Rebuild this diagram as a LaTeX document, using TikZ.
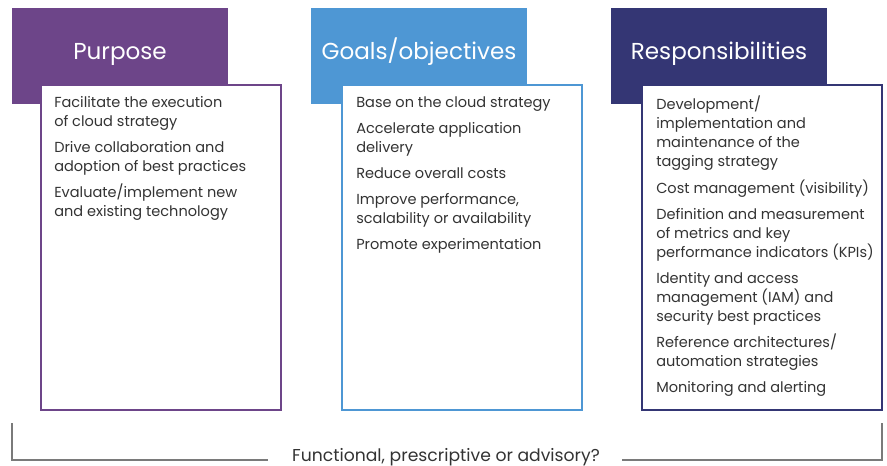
\documentclass[tikz,border=0pt]{standalone}
\usepackage{fontspec}
\setmainfont{Poppins}
\usetikzlibrary{positioning}
\definecolor{purposecol}{HTML}{6D4589}
\definecolor{goalcol}{HTML}{4E97D4}
\definecolor{respcol}{HTML}{343674}
\definecolor{textcol}{HTML}{333333}
\definecolor{bracketcol}{HTML}{7A7A7A}
\newcommand\listfont{\fontsize{10.9}{14.25}\selectfont\lineskiplimit-20pt\relax}
\tikzset{
  header/.style={fill=#1, minimum width=162pt, minimum height=72pt, anchor=north west, inner sep=0pt},
  title/.style={anchor=base, text=white, inner sep=0pt, font=\fontsize{17.3}{20}\selectfont},
  listbox/.style={draw=#1, line width=1.3pt, fill=white, minimum width=180pt, minimum height=243.75pt, anchor=north west, inner sep=0pt},
  listtext/.style={anchor=north west, align=left, text=textcol, inner sep=0pt, font=\listfont},
  bracketline/.style={draw=bracketcol, line width=1.1pt},
}
\begin{document}
\begin{tikzpicture}[x=0.75pt, y=-0.75pt]
    \useasboundingbox (0,0) rectangle (887,466);
    \node (purposehead) [header=purposecol] at (12,8) {};
    \node (goalhead) [header=goalcol] at (311,8) {};
    \node (resphead) [header=respcol] at (611,8) {};
    \node (purposetitle) [title] at (120,60) {Purpose};
    \node (goaltitle) [title] at (419,60) {Goals/objectives};
    \node (resptitle) [title] at (719,60) {Responsibilities};

    \node (purposebox) [listbox=purposecol] at (40,84) {};
    \node (goalbox) [listbox=goalcol] at (341,84) {};
    \node (respbox) [listbox=respcol] at (641,84) {};

    \node (purposelist) [listtext] at (54,96) {Facilitate the execution\\of cloud strategy\\[5.3pt]
        Drive collaboration and\\adoption of best practices\\[5.3pt]
        Evaluate/implement new\\and existing technology};
    \node (goallist) [listtext] at (356,96) {Base on the cloud strategy\\[5.3pt]
        Accelerate application\\delivery\\[5.3pt]
        Reduce overall costs\\[5.3pt]
        Improve performance,\\scalability or availability\\[5.3pt]
        Promote experimentation};
    \node (resplist) [listtext] at (656,96) {Development/\\implementation and\\maintenance of the\\tagging strategy\\[5.3pt]
        Cost management (visibility)\\[5.3pt]
        Definition and measurement\\of metrics and key\\performance indicators (KPIs)\\[5.3pt]
        Identity and access\\management (IAM) and\\security best practices\\[5.3pt]
        Reference architectures/\\automation strategies\\[5.3pt]
        Monitoring and alerting};

    \coordinate (bracketleft) at (12,423);
    \coordinate (bracketright) at (882,423);
    \coordinate (bracketleftend) at (268,460);
    \coordinate (bracketrightend) at (622,460);
    \node (bracketlabel) [anchor=base, text=textcol, inner sep=0pt, font=\fontsize{12.9}{16}\selectfont] at (446,461) {Functional, prescriptive or advisory?};
    \draw [bracketline] (bracketleft) |- (bracketleftend);
    \draw [bracketline] (bracketright) |- (bracketrightend);
\end{tikzpicture}
\end{document}
